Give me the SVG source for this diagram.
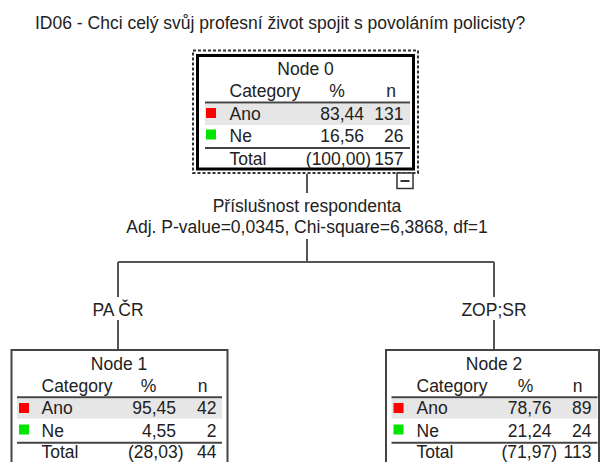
<svg xmlns="http://www.w3.org/2000/svg" width="602" height="462" viewBox="0 0 602 462">
<style>
text{font-family:"Liberation Sans",Arial,sans-serif;font-size:17.5px;fill:#222}
.m{text-anchor:middle}
.e{text-anchor:end}
.box{fill:#fff;stroke:#444;stroke-width:2}
.rule{stroke:#444;stroke-width:2}
.hl{fill:#e6e6e6}
.red{fill:#ff0000}
.grn{fill:#00e600}
.conn{stroke:#555;stroke-width:2;fill:none}
</style>
<rect width="602" height="462" fill="#fff"/>
<text x="35" y="29">ID06 - Chci celý svůj profesní život spojit s povoláním policisty?</text>

<g id="connectors">
<path class="conn" d="M307 174V193M307 239V262M118 262H494M118 262V297M118 320V350M494 262V297M494 320V350"/>
<text class="m" x="307" y="211.5">Příslušnost respondenta</text>
<text class="m" x="307" y="233">Adj. P-value=0,0345, Chi-square=6,3868, df=1</text>
<text class="m" x="118" y="316">PA ČR</text>
<text class="m" x="494" y="316">ZOP;SR</text>
</g>

<g id="node0">
<rect x="193" y="50.5" width="225" height="122.5" fill="none" stroke="#333" stroke-width="2" stroke-dasharray="3 2"/>
<rect x="197.5" y="55.5" width="216" height="113.5" fill="#fff" stroke="#000" stroke-width="3"/>
<text class="m" x="305.5" y="75">Node 0</text>
<text x="229.5" y="97">Category</text>
<text class="m" x="337" y="97">%</text>
<text class="m" x="391" y="97">n</text>
<rect class="hl" x="205" y="104" width="205" height="21"/>
<line class="rule" x1="205" y1="102.5" x2="410" y2="102.5"/>
<rect class="red" x="206" y="108" width="10" height="10"/>
<text x="229.5" y="120">Ano</text>
<text class="e" x="364" y="120">83,44</text>
<text class="e" x="403.5" y="120">131</text>
<rect class="grn" x="206" y="129.5" width="10" height="10"/>
<text x="229.5" y="141.5">Ne</text>
<text class="e" x="364" y="141.5">16,56</text>
<text class="e" x="403.5" y="141.5">26</text>
<line class="rule" x1="205" y1="148" x2="410" y2="148"/>
<text x="229.5" y="165">Total</text>
<text class="e" x="371" y="165">(100,00)</text>
<text class="e" x="403.5" y="165">157</text>
<rect x="397" y="173" width="16" height="15.5" fill="#fff" stroke="#333" stroke-width="1.5"/>
<line x1="400.5" y1="181" x2="409.5" y2="181" stroke="#333" stroke-width="2"/>
</g>

<g id="node1">
<rect class="box" x="11.5" y="350" width="216" height="130"/>
<text class="m" x="119" y="370">Node 1</text>
<text x="41.5" y="391.5">Category</text>
<text class="m" x="148.5" y="391.5">%</text>
<text class="m" x="202.5" y="391.5">n</text>
<rect class="hl" x="17" y="398.5" width="205" height="20"/>
<line class="rule" x1="17" y1="397.3" x2="222" y2="397.3"/>
<rect class="red" x="19" y="403" width="10" height="10"/>
<text x="41.5" y="414">Ano</text>
<text class="e" x="176" y="414">95,45</text>
<text class="e" x="216.5" y="414">42</text>
<rect class="grn" x="19" y="424.5" width="10" height="10"/>
<text x="41.5" y="436.5">Ne</text>
<text class="e" x="176" y="436.5">4,55</text>
<text class="e" x="216.5" y="436.5">2</text>
<line class="rule" x1="17" y1="442.7" x2="222" y2="442.7"/>
<text x="41.5" y="458.3">Total</text>
<text class="e" x="183.5" y="458.3">(28,03)</text>
<text class="e" x="216.5" y="458.3">44</text>
</g>

<g id="node2">
<rect class="box" x="386" y="350" width="213" height="130"/>
<text class="m" x="494" y="370">Node 2</text>
<text x="416.5" y="391.5">Category</text>
<text class="m" x="525.5" y="391.5">%</text>
<text class="m" x="577.7" y="391.5">n</text>
<rect class="hl" x="391.5" y="398.5" width="206" height="20"/>
<line class="rule" x1="391.5" y1="397.3" x2="597.5" y2="397.3"/>
<rect class="red" x="393.5" y="403" width="10" height="10"/>
<text x="416.5" y="414">Ano</text>
<text class="e" x="551.5" y="414">78,76</text>
<text class="e" x="591.5" y="414">89</text>
<rect class="grn" x="393.5" y="424.5" width="10" height="10"/>
<text x="416.5" y="436.5">Ne</text>
<text class="e" x="551.5" y="436.5">21,24</text>
<text class="e" x="591.5" y="436.5">24</text>
<line class="rule" x1="391.5" y1="442.7" x2="597.5" y2="442.7"/>
<text x="416.5" y="458.3">Total</text>
<text class="e" x="557" y="458.3">(71,97)</text>
<text class="e" x="591.5" y="458.3">113</text>
</g>
</svg>
